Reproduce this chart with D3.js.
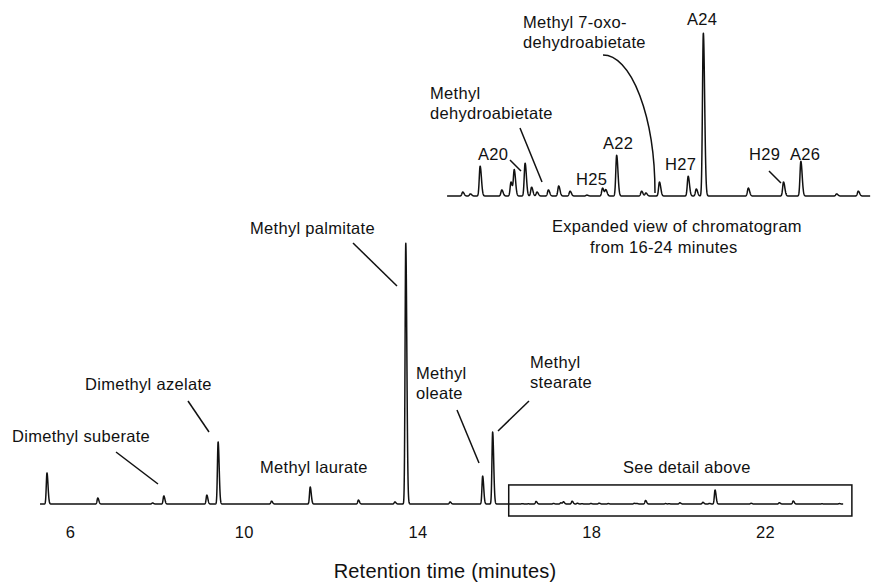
<!DOCTYPE html>
<html><head><meta charset="utf-8">
<script src="https://cdn.jsdelivr.net/npm/d3@7"></script>
<style>
html,body{margin:0;padding:0;background:#fff;}
svg text{font-family:Arial,"Liberation Sans",Helvetica,sans-serif;fill:#111;}
</style></head>
<body>
<svg id="c" width="874" height="585"></svg>
<script>
// ---- DATA (retention time in minutes, abundance in % of methyl palmitate) ----
const earlyTimes = [5.47, 6.64, 7.90, 8.16, 9.15, 9.41, 10.64, 11.53, 12.64, 13.48, 13.73, 14.75, 15.50, 15.73];
const earlyAbund = [11.9, 2.3, 0.4, 3.1, 3.4, 23.8, 1.1, 6.5, 1.5, 0.8, 100, 0.8, 10.7, 27.6];
const lateTimes = [16.41, 16.55, 16.73, 17.13, 17.30, 17.36, 17.56, 17.68, 17.78, 17.99, 18.18, 18.39, 18.70, 18.99, 19.05, 19.25, 19.71, 19.79, 20.04, 20.57, 20.72, 20.85, 21.68, 22.33, 22.65, 23.31, 23.71];
const lateAbund = [0.13, 0.07, 0.98, 0.20, 0.46, 0.85, 1.08, 0.29, 0.13, 0.20, 0.33, 0.16, 0.03, 0.26, 0.20, 1.34, 0.16, 0.10, 0.46, 0.65, 0.23, 5.36, 0.26, 0.46, 1.14, 0.07, 0.16];
const tickValues = [6, 10, 14, 18, 22];
const mainRange = [5.31, 23.8];
const insetRange = [16.12, 23.93];
const detailRange = [16.1, 24];

const svg = d3.select("#c");
const FS = 16.5, LS = 0.3;

// ---- scales ----
const x = d3.scaleLinear().domain([6, 22]).range([70, 765]);
const y = d3.scaleLinear().domain([0, 100]).range([504, 243]);
const xi = d3.scaleLinear().domain([16.1, 24]).range([446, 874]);
const yi = d3.scaleLinear().domain([0, 5.36]).range([196, 33]);

function peakSignal(t, times, abund) {
  let s = 0;
  for (let i = 0; i < times.length; i++) {
    const d = t - times[i];
    const sg = d < 0 ? 0.016 : 0.024;
    if (Math.abs(d) < 0.3) s += abund[i] * Math.exp(-0.5 * (d / sg) * (d / sg));
  }
  return s;
}
const allTimes = earlyTimes.concat(lateTimes);
const allAbund = earlyAbund.concat(lateAbund);

function sample(r) {
  const pts = [];
  for (let t = r[0]; t <= r[1] + 1e-9; t += 0.003) pts.push([t, peakSignal(t, allTimes, allAbund)]);
  return pts;
}

// ---- main trace ----
svg.append("path")
  .datum(sample(mainRange))
  .attr("fill", "none").attr("stroke", "#111").attr("stroke-width", 1.5)
  .attr("stroke-linejoin", "round")
  .attr("d", d3.line().x(d => x(d[0])).y(d => y(d[1])));

// ---- inset trace ----
svg.append("path")
  .datum(sample(insetRange))
  .attr("fill", "none").attr("stroke", "#111").attr("stroke-width", 1.5)
  .attr("stroke-linejoin", "round")
  .attr("d", d3.line().x(d => xi(d[0])).y(d => yi(d[1])));

// ---- detail box ----
svg.append("rect")
  .attr("x", x(detailRange[0])).attr("y", y(7.3))
  .attr("width", x(detailRange[1]) - x(detailRange[0]))
  .attr("height", y(-4.6) - y(7.3))
  .attr("fill", "none").attr("stroke", "#111").attr("stroke-width", 1.5);

// ---- x axis (labels only) ----
const ax = svg.append("g").attr("transform", "translate(0,538)")
  .call(d3.axisBottom(x).tickValues(tickValues).tickSize(0).tickPadding(0).tickFormat(d3.format("d")));
ax.select(".domain").remove();
ax.selectAll("text").attr("font-size", FS).attr("letter-spacing", LS)
  .attr("dy", 0).attr("y", 0).style("font-family", "Arial, 'Liberation Sans', sans-serif").attr("fill", "#111");

svg.append("text").attr("x", 445).attr("y", 578).attr("text-anchor", "middle")
  .attr("font-size", 20).attr("letter-spacing", 0.2).text("Retention time (minutes)");

// ---- annotations ----
function label(lines, px, py, lh) {
  const t = svg.append("text").attr("font-size", FS).attr("letter-spacing", LS);
  lines.forEach((s, i) => t.append("tspan").attr("x", px).attr("y", py + i * (lh || 20)).text(s));
  return t;
}
function leader(x1, y1, x2, y2) {
  svg.append("line").attr("x1", x1).attr("y1", y1).attr("x2", x2).attr("y2", y2)
    .attr("stroke", "#111").attr("stroke-width", 1.5);
}
label(["Dimethyl suberate"], 12, 442);
leader(116, 452, 158, 484);
label(["Dimethyl azelate"], 85, 390);
leader(188, 401, 209, 432);
label(["Methyl laurate"], 260, 473);
label(["Methyl palmitate"], 250, 234);
leader(353, 243, 397, 286);
label(["Methyl", "oleate"], 416, 379);
leader(457, 410, 479, 463);
label(["Methyl", "stearate"], 530, 368);
leader(529, 401, 498, 431);
label(["See detail above"], 623, 473);

// inset annotations
label(["Methyl 7-oxo-", "dehydroabietate"], 523, 28);
svg.append("path").attr("d", "M603,55 A52,138 0 0 1 655,193")
  .attr("fill", "none").attr("stroke", "#111").attr("stroke-width", 1.5);
label(["A24"], 687, 25);
label(["Methyl", "dehydroabietate"], 430, 99);
leader(520, 128, 542, 182);
label(["A20"], 478, 160);
leader(510, 160, 521, 171);
label(["H25"], 576, 185);
label(["A22"], 603, 149);
label(["H27"], 665, 170);
label(["H29"], 749, 160);
leader(769, 171, 781, 183);
label(["A26"], 790, 160);
label(["Expanded view of chromatogram"], 552, 232);
label(["from 16-24 minutes"], 590, 253);
</script>
</body></html>
